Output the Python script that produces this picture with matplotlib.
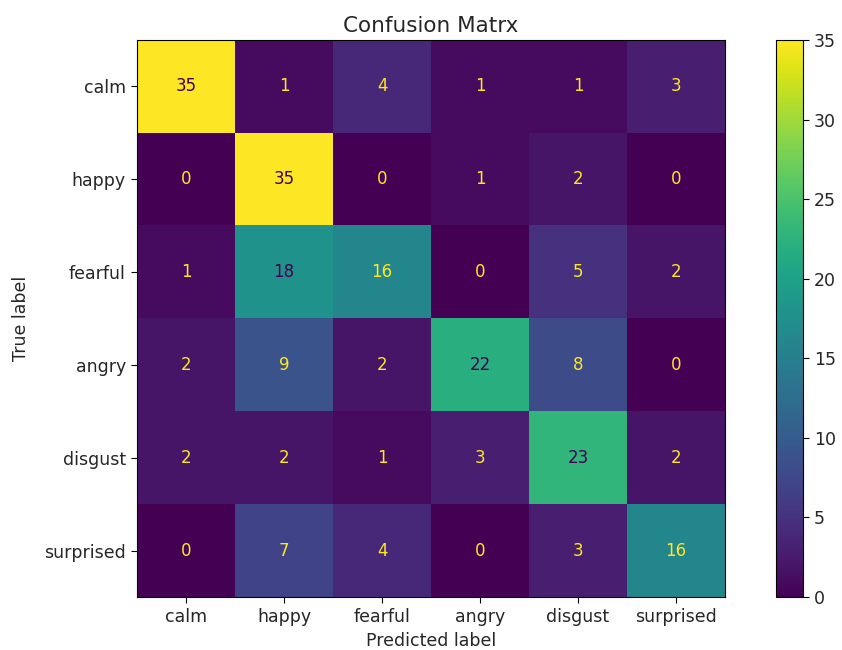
import numpy as np
import matplotlib.pyplot as plt

labels = ["calm", "happy", "fearful", "angry", "disgust", "surprised"]
cm_row_calm = [35, 1, 4, 1, 1, 3]
cm_row_happy = [0, 35, 0, 1, 2, 0]
cm_row_fearful = [1, 18, 16, 0, 5, 2]
cm_row_angry = [2, 9, 2, 22, 8, 0]
cm_row_disgust = [2, 2, 1, 3, 23, 2]
cm_row_surprised = [0, 7, 4, 0, 3, 16]

cm = np.array([cm_row_calm, cm_row_happy, cm_row_fearful,
               cm_row_angry, cm_row_disgust, cm_row_surprised])

# the reference is a screenshot at ~1.3x, so scale fonts accordingly
FS = 12.5
TXT = "#262626"

fig = plt.figure(figsize=(8.42, 6.5), dpi=100)
ax = fig.add_axes([137 / 842, 1 - 597 / 650, 588 / 842, 557 / 650])
cax = fig.add_axes([776 / 842, 1 - 597 / 650, 27 / 842, 557 / 650])

cmap = plt.get_cmap("viridis")
im = ax.imshow(cm, cmap=cmap, interpolation="nearest", aspect="auto")
cbar = fig.colorbar(im, cax=cax)
cbar.ax.tick_params(labelsize=FS, length=4.5, labelcolor=TXT)

# text colour flips at the midpoint, like sklearn's display
thresh = (cm.max() + cm.min()) / 2.0
for i in range(cm.shape[0]):
    for j in range(cm.shape[1]):
        color = cmap(0) if cm[i, j] >= thresh else cmap(1.0)
        ax.text(j, i, str(cm[i, j]), ha="center", va="center", color=color, fontsize=12)

ax.set_xticks(np.arange(len(labels)))
ax.set_yticks(np.arange(len(labels)))
ax.set_xticklabels(labels, fontsize=FS)
ax.set_yticklabels(labels, fontsize=FS)
ax.tick_params(length=4.5, labelcolor=TXT)
ax.set_xlabel("Predicted label", fontsize=FS, color=TXT)
ax.set_ylabel("True label", fontsize=FS, color=TXT, labelpad=10)
ax.set_title("Confusion Matrx", fontsize=15.5, color=TXT)

plt.savefig("out.png", dpi=100)
